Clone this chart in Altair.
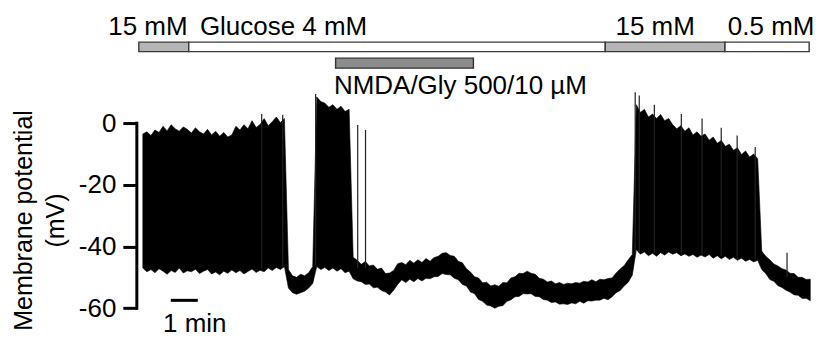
import altair as alt
import pandas as pd

# ---- membrane potential trace: envelope (mV) ----
T0 = 0.222   # first sample, min
DT = 0.15    # sample spacing, min
upper = [
    -3.5, -2.8, -4.0, -2.2, -3.0, -1.0, -2.5, -0.5, -1.8, -2.6,
    -1.2, -2.0, -3.2, -1.5, -2.8, -3.5, -2.0, -3.8, -2.6, -4.2,
    -3.0, -4.5, -3.8, -1.0, -2.2, -0.5, -1.8, 0.8, -1.4, -0.4,
    1.5, -0.8, 0.5, 2.0, 0.2, 1.5,
    -47.5, -49.5, -50.0, -49.0, -49.5, -48.5, -46.5,
    8.5, 7.0, 6.5, 5.2, 6.0, 4.5, 5.5, 3.8, 4.5,
    -43.5, -44.5, -45.8, -44.9, -46.3, -46.0, -47.4, -47.0, -48.8, -48.6,
    -47.8, -45.6, -45.2, -45.9, -44.5, -45.4, -44.3, -45.2, -43.9, -44.8,
    -43.6, -43.2, -42.2, -42.0, -42.9, -43.2, -44.8, -45.3, -47.2, -48.3,
    -49.8, -50.2, -51.8, -51.6, -52.8, -52.4, -52.9, -51.7, -51.8, -50.2,
    -49.8, -48.7, -48.8, -48.0, -48.7, -49.0, -50.3, -50.6, -51.5, -51.2,
    -52.1, -51.7, -52.3, -51.9, -52.1, -51.7, -51.9, -51.3, -51.5, -50.8,
    -51.4, -50.6, -50.8, -50.4, -50.2, -48.6, -47.3, -46.2, -44.3, -42.6,
    6.0, 3.5, 4.5, 2.0, 3.0, 1.5, 2.8, 0.8, 1.5, -0.5,
    -1.8, -0.8, -2.6, -1.5, -3.8, -2.8, -4.2, -3.5, -5.5, -4.5,
    -6.5, -5.6, -7.5, -6.8, -8.8, -8.0, -10.2, -9.0, -11.0, -10.0,
    -11.5,
    -41.5, -43.2, -44.3, -45.7, -46.3, -47.2, -47.6, -48.7, -48.8, -50.0,
    -50.0, -50.7, -50.6,
]
lower = [
    -47.0, -48.2, -47.5, -48.5, -47.2, -48.0, -49.0, -47.8, -48.4, -47.0,
    -48.6, -47.9, -48.2, -47.4, -48.8, -48.0, -47.5, -48.9, -48.3, -49.2,
    -48.0, -48.7, -47.6, -48.5, -47.8, -48.9, -48.1, -47.3, -48.4, -47.7,
    -48.2, -47.0, -47.8, -46.8, -47.5, -46.5,
    -53.5, -55.0, -55.5, -55.0, -54.5, -53.5, -52.0,
    -46.5, -47.5, -46.8, -47.8, -47.0, -48.0, -47.2, -48.5, -48.0,
    -50.5, -51.2, -51.4, -52.3, -52.2, -53.4, -53.2, -54.3, -54.8, -55.7,
    -54.2, -52.3, -50.8, -51.7, -50.6, -51.4, -50.4, -51.2, -50.3, -50.5,
    -49.8, -49.7, -48.8, -49.1, -49.2, -50.3, -50.8, -52.3, -52.8, -54.8,
    -55.3, -57.2, -57.8, -59.0, -59.3, -60.0, -59.4, -59.2, -57.8, -57.3,
    -56.3, -56.2, -55.3, -55.4, -55.3, -56.2, -56.3, -57.2, -57.4, -58.2,
    -58.0, -58.7, -58.6, -58.8, -58.3, -58.6, -57.8, -58.4, -57.6, -57.7,
    -57.4, -57.4, -56.8, -57.3, -56.3, -55.0, -54.3, -52.8, -51.6, -49.3,
    -41.0, -42.5, -41.8, -43.0, -42.2, -43.2, -42.0, -42.8, -41.8, -42.5,
    -42.0, -43.0, -42.4, -43.2, -42.6, -43.5, -42.8, -43.4, -42.6, -43.8,
    -43.0, -44.0, -43.2, -44.2, -43.5, -44.5, -43.8, -44.8, -44.2, -45.0,
    -44.5,
    -47.5, -48.8, -50.7, -51.3, -52.7, -53.3, -54.2, -54.8, -55.7, -55.8,
    -56.9, -56.8, -57.6,
]
times = [round(T0 + i * DT, 4) for i in range(len(upper))]

# individual tall spikes (min, peak mV, base mV)
spike_t = [4.63, 5.41, 6.63, 8.19, 8.48, 18.48, 18.63, 19.19, 20.19, 20.96, 21.67, 22.26, 22.93, 24.11]
spike_peak = [3.0, 2.7, 9.5, -0.6, -2.2, 10.0, 9.0, 6.0, 3.0, 1.5, -1.5, -4.0, -7.7, -42.0]
spike_base = [-47.0, -47.0, -46.0, -47.0, -47.0, -42.0, -42.0, -42.0, -43.0, -43.0, -43.0, -44.0, -44.0, -50.0]

# solution bar (glucose)
seg_start = [0.074, 1.926, 17.37, 21.81]
seg_end = [1.926, 17.37, 21.81, 24.93]
seg_label = ["15 mM", "Glucose 4 mM", "15 mM", "0.5 mM"]
seg_label_t = [0.41, 5.44, 19.22, 23.52]
seg_fill = ["#b5b5b5", "#ffffff", "#b5b5b5", "#ffffff"]

# NMDA/Gly application
nmda_start = [7.37]
nmda_end = [12.48]
nmda_label = ["NMDA/Gly 500/10 µM"]
nmda_label_t = [12.0]

# scale bar
scale_start = [1.26]
scale_len = [1.0]
scale_label = ["1 min"]

y_ticks = [0, -20, -40, -60]

FONT = "Liberation Sans"
FS = 26

trace = pd.DataFrame({"t": times, "top": upper, "bottom": lower})
spikes = pd.DataFrame({"t": spike_t, "top": spike_peak, "bottom": spike_base})
segs = pd.DataFrame({"start": seg_start, "end": seg_end, "label": seg_label,
                     "lt": seg_label_t, "fill": seg_fill})
nmda = pd.DataFrame({"start": nmda_start, "end": nmda_end, "label": nmda_label, "lt": nmda_label_t})
scale = pd.DataFrame({"start": scale_start, "end": [s + l for s, l in zip(scale_start, scale_len)],
                      "label": scale_label})
scale["mid"] = (scale["start"] + scale["end"]) / 2 + 0.39
axis_line = pd.DataFrame({"a": [max(y_ticks)], "b": [min(y_ticks)]})

xs = alt.Scale(domain=[0, 25.11], nice=False, zero=False)
ys = alt.Scale(domain=[-68, 36], nice=False, zero=False)

y_axis = alt.Axis(
    values=y_ticks, domain=False, grid=False, tickSize=14, tickWidth=3, tickColor="black",
    labelFont=FONT, labelFontSize=FS, labelColor="black", labelPadding=7,
    labelExpr="toString(datum.value)",
    title=["Membrane potential", "(mV)"], titleFont=FONT, titleFontSize=25,
    titleFontWeight="normal", titleColor="black", titleAngle=270, titleAlign="center",
    titleBaseline="alphabetic", titleX=-105, titleY=208, titleLineHeight=32,
)

trace_layer = alt.Chart(trace).mark_area(color="black", stroke="black", strokeWidth=0.6).encode(
    x=alt.X("t:Q", scale=xs, axis=None),
    y=alt.Y("top:Q", scale=ys, axis=y_axis),
    y2="bottom:Q",
)

spike_layer = alt.Chart(spikes).mark_rule(color="#222222", strokeWidth=1.2).encode(
    x=alt.X("t:Q", scale=xs, axis=None),
    y=alt.Y("top:Q", scale=ys, axis=y_axis),
    y2="bottom:Q",
)

axis_rule = alt.Chart(axis_line).mark_rule(color="black", strokeWidth=3, strokeCap="square").encode(
    x=alt.value(0),
    y=alt.Y("a:Q", scale=ys, axis=y_axis),
    y2="b:Q",
)

seg_bars = alt.Chart(segs).mark_rect(stroke="#3a3a3a", strokeWidth=1.4).encode(
    x=alt.X("start:Q", scale=xs, axis=None),
    x2="end:Q",
    y=alt.value(30),
    y2=alt.value(39.5),
    fill=alt.Fill("fill:N", scale=None),
)

seg_text = alt.Chart(segs).mark_text(font=FONT, fontSize=FS, color="black", align="center",
                                     baseline="alphabetic").encode(
    x=alt.X("lt:Q", scale=xs, axis=None),
    y=alt.value(23),
    text="label:N",
)

nmda_bar = alt.Chart(nmda).mark_rect(fill="#8c8c8c", stroke="#333333", strokeWidth=1.4).encode(
    x=alt.X("start:Q", scale=xs, axis=None),
    x2="end:Q",
    y=alt.value(46),
    y2=alt.value(56),
)

nmda_text = alt.Chart(nmda).mark_text(font=FONT, fontSize=FS, color="black", align="center",
                                      baseline="alphabetic").encode(
    x=alt.X("lt:Q", scale=xs, axis=None),
    y=alt.value(81.5),
    text="label:N",
)

scale_bar = alt.Chart(scale).mark_rule(color="black", strokeWidth=3).encode(
    x=alt.X("start:Q", scale=xs, axis=None),
    x2="end:Q",
    y=alt.value(288.5),
)

scale_text = alt.Chart(scale).mark_text(font=FONT, fontSize=FS, color="black", align="center",
                                        baseline="alphabetic").encode(
    x=alt.X("mid:Q", scale=xs, axis=None),
    y=alt.value(320.5),
    text="label:N",
)

chart = alt.layer(
    trace_layer, spike_layer, axis_rule, seg_bars, seg_text, nmda_bar, nmda_text, scale_bar, scale_text
).properties(
    width=678, height=321,
    padding={"left": 129, "top": 4, "right": 0, "bottom": 8},
    autosize=alt.AutoSizeParams(type="none"),
    background="white",
).configure_view(stroke=None)

chart.save("out.html", embed_options={"renderer": "svg", "actions": False})
